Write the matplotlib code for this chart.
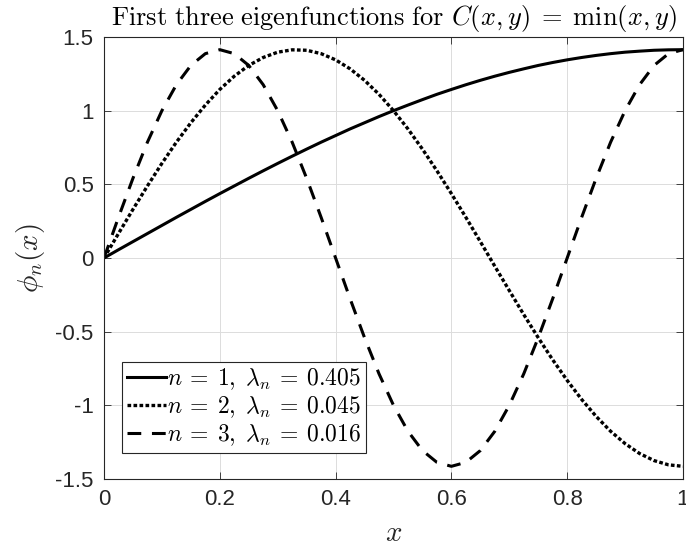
import matplotlib
matplotlib.use("Agg")
import matplotlib.pyplot as plt

plt.rcParams["mathtext.fontset"] = "cm"
plt.rcParams["font.family"] = ["Liberation Sans", "DejaVu Sans"]

# sample points along x
x_vals = [0.000, 0.025, 0.050, 0.075, 0.100, 0.125, 0.150, 0.175, 0.200, 0.225,
          0.250, 0.275, 0.300, 0.325, 0.350, 0.375, 0.400, 0.425, 0.450, 0.475,
          0.500, 0.525, 0.550, 0.575, 0.600, 0.625, 0.650, 0.675, 0.700, 0.725,
          0.750, 0.775, 0.800, 0.825, 0.850, 0.875, 0.900, 0.925, 0.950, 0.975,
          1.000]

phi_1 = [0.000, 0.056, 0.111, 0.166, 0.221, 0.276, 0.330, 0.384, 0.437, 0.489,
         0.541, 0.592, 0.642, 0.691, 0.739, 0.786, 0.831, 0.876, 0.918, 0.960,
         1.000, 1.038, 1.075, 1.111, 1.144, 1.176, 1.206, 1.234, 1.260, 1.284,
         1.307, 1.327, 1.345, 1.361, 1.375, 1.387, 1.397, 1.404, 1.410, 1.413,
         1.414]

phi_2 = [0.000, 0.166, 0.330, 0.489, 0.642, 0.786, 0.918, 1.038, 1.144, 1.234,
         1.307, 1.361, 1.397, 1.413, 1.410, 1.387, 1.345, 1.284, 1.206, 1.111,
         1.000, 0.876, 0.739, 0.592, 0.437, 0.276, 0.111, -0.056, -0.221, -0.384,
         -0.541, -0.691, -0.831, -0.960, -1.075, -1.176, -1.260, -1.327, -1.375, -1.404,
         -1.414]

phi_3 = [0.000, 0.276, 0.541, 0.786, 1.000, 1.176, 1.307, 1.387, 1.414, 1.387,
         1.307, 1.176, 1.000, 0.786, 0.541, 0.276, 0.000, -0.276, -0.541, -0.786,
         -1.000, -1.176, -1.307, -1.387, -1.414, -1.387, -1.307, -1.176, -1.000, -0.786,
         -0.541, -0.276, 0.000, 0.276, 0.541, 0.786, 1.000, 1.176, 1.307, 1.387,
         1.414]

labels = [r"$n\:=\:1,\; \lambda_n\:=\:0.405$",
          r"$n\:=\:2,\; \lambda_n\:=\:0.045$",
          r"$n\:=\:3,\; \lambda_n\:=\:0.016$"]

x_ticks = [0, 0.2, 0.4, 0.6, 0.8, 1]
x_ticklabels = ["0", "0.2", "0.4", "0.6", "0.8", "1"]
y_ticks = [-1.5, -1, -0.5, 0, 0.5, 1, 1.5]
y_ticklabels = ["-1.5", "-1", "-0.5", "0", "0.5", "1", "1.5"]

fig = plt.figure(figsize=(6.86, 5.54), dpi=100)
ax = fig.add_axes([0.1516, 0.1354, 0.844, 0.7978])

ax.plot(x_vals, phi_1, color="black", linestyle="-", linewidth=2.2, label=labels[0])
ax.plot(x_vals, phi_2, color="black", linestyle=(0, (1.1, 0.7)), linewidth=2.4, label=labels[1])
ax.plot(x_vals, phi_3, color="black", linestyle=(0, (4.5, 3.5)), linewidth=2.2, label=labels[2])

ax.set_xlim(0, 1)
ax.set_ylim(-1.5, 1.5)
ax.set_xticks(x_ticks)
ax.set_xticklabels(x_ticklabels)
ax.set_yticks(y_ticks)
ax.set_yticklabels(y_ticklabels)
ax.tick_params(direction="in", length=5, width=0.6, labelsize=16,
               colors="#262626", top=True, right=True, pad=7.5)
ax.grid(True, color="#dcdcdc", linewidth=0.7)
ax.set_axisbelow(True)
for sp in ax.spines.values():
    sp.set_color("#262626")
    sp.set_linewidth(0.8)

ax.set_xlabel(r"$x$", fontsize=21, color="#262626", labelpad=6)
ax.set_ylabel(r"$\phi_n(x)$", fontsize=21, color="#262626", labelpad=6)
ax.set_title(r"$\mathrm{First\ three\ eigenfunctions\ for\ }C(x,y)\;=\;\min(x,y)$",
             fontsize=19, pad=9)

leg = ax.legend(loc="lower left", bbox_to_anchor=(0.031, 0.059), fontsize=17,
                handlelength=1.65, handletextpad=0.05, borderaxespad=0,
                borderpad=0.2, labelspacing=0.1, fancybox=False, framealpha=1)
leg.get_frame().set_edgecolor("#262626")
leg.get_frame().set_linewidth(0.8)

fig.savefig("out.png", dpi=100)
